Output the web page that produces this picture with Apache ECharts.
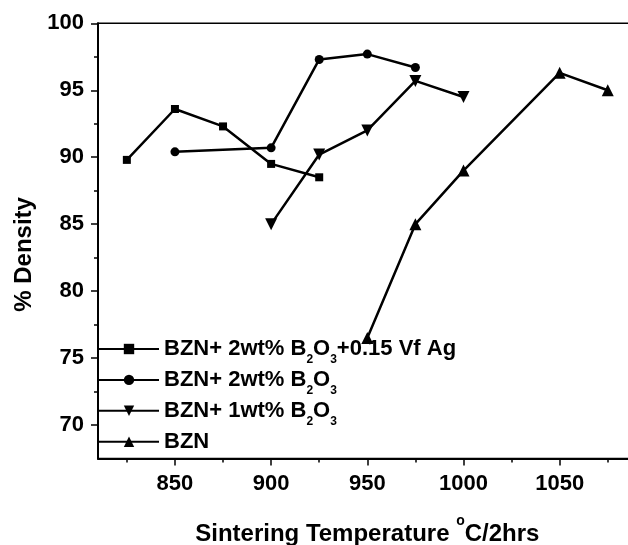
<!DOCTYPE html>
<html>
<head>
<meta charset="utf-8">
<script src="https://cdn.jsdelivr.net/npm/echarts@6/dist/echarts.min.js"></script>
<style>html,body{margin:0;padding:0;background:#fff}#c{width:628px;height:545px}</style>
</head>
<body>
<div id="c"></div>
<script>
// Data
var seriesNames = ['BZN+ 2wt% B2O3+0.15 Vf Ag', 'BZN+ 2wt% B2O3', 'BZN+ 1wt% B2O3', 'BZN'];
var legendLabels = ['BZN+ 2wt% B{s|2}O{s|3}+0.15 Vf Ag', 'BZN+ 2wt% B{s|2}O{s|3}', 'BZN+ 1wt% B{s|2}O{s|3}', 'BZN'];
var tempAg = [825, 850, 875, 900, 925];
var densAg = [89.8, 93.6, 92.3, 89.5, 88.5];
var temp2wt = [850, 900, 925, 950, 975];
var dens2wt = [90.4, 90.7, 97.3, 97.7, 96.7];
var temp1wt = [900, 925, 950, 975, 1000];
var dens1wt = [85.0, 90.2, 92.0, 95.7, 94.5];
var tempBZN = [950, 975, 1000, 1050, 1075];
var densBZN = [76.5, 85.0, 89.0, 96.3, 95.0];
var xMajorTicks = [850, 900, 950, 1000, 1050];
var xMinorTicks = [825, 875, 925, 975, 1025, 1075];
var yMajorTicks = [70, 75, 80, 85, 90, 95, 100];
var yMinorTicks = [72.5, 77.5, 82.5, 87.5, 92.5, 97.5];

function pairs(xs, ys) { return xs.map(function (x, i) { return [x, ys[i]]; }); }
function plain(v) { return String(v); }

var FONT = 'Liberation Sans, Arial, sans-serif';
var chart = echarts.init(document.getElementById('c'), null, { renderer: 'canvas' });

function mkSeries(name, data, symbol, size, rotate) {
  return {
    name: name, type: 'line', data: data, xAxisIndex: 0, yAxisIndex: 0,
    symbol: symbol, symbolSize: size, symbolRotate: rotate || 0, showSymbol: true,
    lineStyle: { color: '#000', width: 2.5 },
    itemStyle: { color: '#000', borderWidth: 0 },
    emphasis: { disabled: true }
  };
}

chart.setOption({
  animation: false,
  grid: { left: 98, top: 23.3, width: 538.6, height: 435.2, outerBoundsMode: 'none', containLabel: false,
          show: true, borderColor: '#000', borderWidth: 1.5, backgroundColor: 'transparent' },
  legend: {
    left: 98, top: 337, orient: 'vertical', padding: 0,
    itemWidth: 60, itemHeight: 13, itemGap: 2.4,
    data: seriesNames,
    formatter: function (n) { return legendLabels[seriesNames.indexOf(n)]; },
    textStyle: {
      fontFamily: FONT, fontSize: 22, fontWeight: 'bold', color: '#000', lineHeight: 24,
      rich: { s: { fontFamily: FONT, fontSize: 12, fontWeight: 'bold', color: '#000', height: 3, verticalAlign: 'bottom' } }
    }
  },
  xAxis: [{
    type: 'value', min: 810, max: 1090, position: 'bottom',
    name: 'Sintering Temperature {sup|o}C/2hrs', nameLocation: 'middle', nameGap: 61,
    nameTextStyle: {
      fontFamily: FONT, fontSize: 24, fontWeight: 'bold', color: '#000', lineHeight: 30,
      rich: { sup: { fontFamily: FONT, fontSize: 14, fontWeight: 'bold', color: '#000', height: 4, verticalAlign: 'top' } }
    },
    axisLine: { show: true, lineStyle: { color: '#000', width: 2 } },
    axisTick: { show: true, customValues: xMajorTicks, length: 7, lineStyle: { color: '#000', width: 1.5 } },
    axisLabel: { customValues: xMajorTicks, formatter: plain, margin: 14, fontFamily: FONT, fontSize: 22, fontWeight: 'bold', color: '#000' },
    splitLine: { show: false }
  }, {
    type: 'value', min: 810, max: 1090, position: 'bottom',
    axisLine: { show: false },
    axisTick: { show: true, customValues: xMinorTicks, length: 4, lineStyle: { color: '#000', width: 1.5 } },
    axisLabel: { show: false },
    splitLine: { show: false }
  }],
  yAxis: [{
    type: 'value', min: 67.5, max: 100, position: 'left',
    name: '% Density', nameLocation: 'middle', nameGap: 60, nameRotate: 90,
    nameTextStyle: { fontFamily: FONT, fontSize: 24, fontWeight: 'bold', color: '#000', padding: [0, 27, 0, 0] },
    axisLine: { show: true, lineStyle: { color: '#000', width: 2 } },
    axisTick: { show: true, customValues: yMajorTicks, length: 7, lineStyle: { color: '#000', width: 1.5 } },
    axisLabel: { customValues: yMajorTicks, formatter: plain, margin: 14, fontFamily: FONT, fontSize: 22, fontWeight: 'bold', color: '#000' },
    splitLine: { show: false }
  }, {
    type: 'value', min: 67.5, max: 100, position: 'left',
    axisLine: { show: false },
    axisTick: { show: true, customValues: yMinorTicks, length: 4, lineStyle: { color: '#000', width: 1.5 } },
    axisLabel: { show: false },
    splitLine: { show: false }
  }],
  series: [
    mkSeries(seriesNames[0], pairs(tempAg, densAg), 'rect', 8),
    mkSeries(seriesNames[1], pairs(temp2wt, dens2wt), 'circle', 9),
    mkSeries(seriesNames[2], pairs(temp1wt, dens1wt), 'triangle', 12, 180),
    mkSeries(seriesNames[3], pairs(tempBZN, densBZN), 'triangle', 12)
  ]
});
</script>
</body>
</html>
